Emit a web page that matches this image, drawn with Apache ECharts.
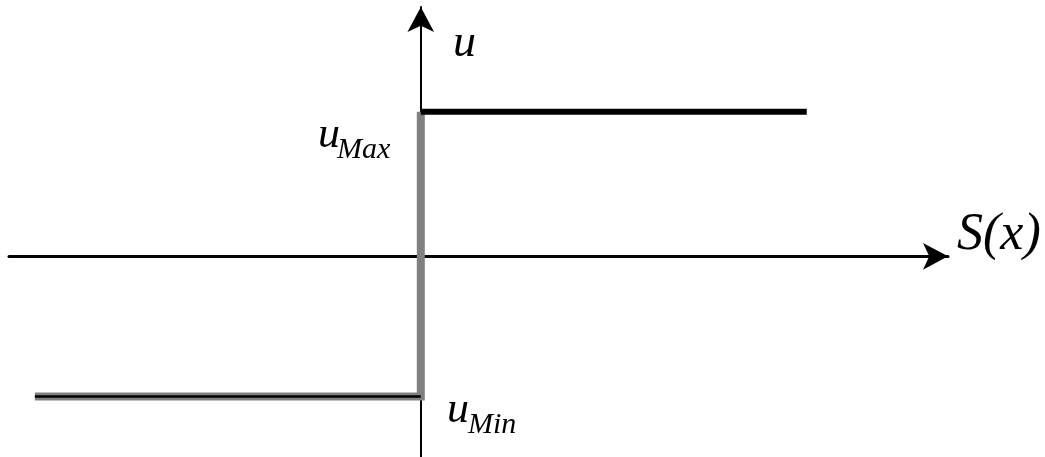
<!DOCTYPE html>
<html>
<head>
<meta charset="utf-8">
<script src="https://cdn.jsdelivr.net/npm/echarts@6/dist/echarts.min.js"></script>
<style>
html, body { margin: 0; padding: 0; background: #fff; }
#chart { width: 1045px; height: 457px; }
</style>
</head>
<body>
<div id="chart"></div>
<script>
// 继电器型控制律 u = uMax (S>0), uMin (S<0)
const sPoints = [-1, 0, 1];
const uMax = 1;
const uMin = -0.97;

// 上半段（黑色）
const upperData = [[sPoints[1], uMax], [sPoints[2], uMax]];
// 下半段 + 竖直跳变（灰色）
const lowerData = [[sPoints[0], uMin], [sPoints[1], uMin], [sPoints[1], uMax]];
// 下半段中间的黑线
const lowerCore = [[sPoints[0], uMin], [sPoints[1], uMin]];

function addText(x, y, text, size) {
	return {
		type: 'text',
		x: x,
		y: y,
		style: {
			text: text,
			fontFamily: '"Liberation Serif", "Times New Roman", "DejaVu Serif", serif',
			fontStyle: 'italic',
			fontSize: size,
			fill: '#000',
			verticalAlign: 'middle'
		}
	};
}

let option = {
	backgroundColor: '#fff',
	animation: false,
	grid: {
		left: 9,
		right: 97,
		top: 7,
		bottom: 0,
		outerBoundsMode: 'none'
	},
	xAxis: {
		type: 'value',
		min: -1.067,
		max: 1.366,
		axisLine: {
			show: true,
			onZero: true,
			symbol: ['none', 'arrow'],
			symbolSize: [20, 25],
			lineStyle: { color: '#000', width: 3 }
		},
		axisTick: { show: false },
		axisLabel: { show: false },
		splitLine: { show: false }
	},
	yAxis: {
		type: 'value',
		min: -1.388,
		max: 1.724,
		axisLine: {
			show: true,
			onZero: true,
			symbol: ['none', 'arrow'],
			symbolSize: [20, 25],
			lineStyle: { color: '#000', width: 2 }
		},
		axisTick: { show: false },
		axisLabel: { show: false },
		splitLine: { show: false }
	},
	series: [
		{
			type: 'line',
			data: lowerData,
			showSymbol: false,
			z: 2,
			lineStyle: { color: '#808080', width: 8, join: 'miter', cap: 'butt' }
		},
		{
			type: 'line',
			data: lowerCore,
			showSymbol: false,
			z: 3,
			lineStyle: { color: '#000', width: 2.5 }
		},
		{
			type: 'line',
			data: upperData,
			showSymbol: false,
			z: 4,
			lineStyle: { color: '#000', width: 6 }
		}
	],
	graphic: [
		addText(453, 44, 'u', 46),
		addText(318, 135, 'u', 44),
		addText(337, 150, 'Max', 30),
		addText(447, 410, 'u', 44),
		addText(468, 425, 'Min', 30),
		addText(957, 235, 'S(x)', 52)
	]
};

let myChart = echarts.init(document.getElementById('chart'));
myChart.setOption(option);
window.addEventListener('resize', function () {
	myChart.resize();
});
</script>
</body>
</html>
